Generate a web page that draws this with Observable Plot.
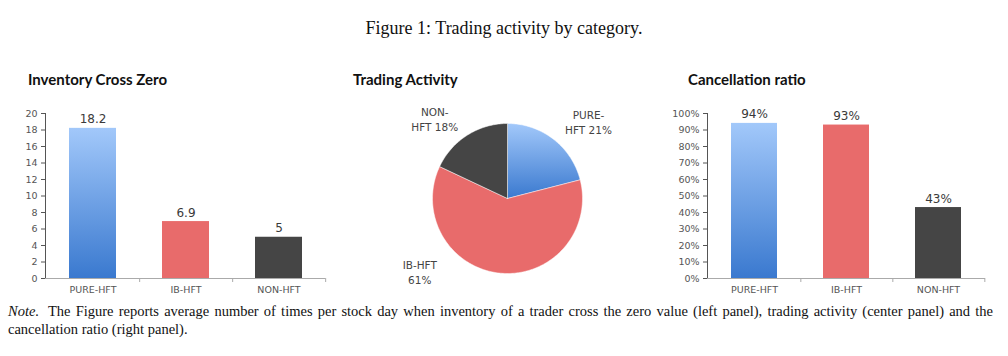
<!DOCTYPE html>
<html>
<head>
<meta charset="utf-8">
<script src="https://cdn.jsdelivr.net/npm/d3@7"></script>
<script src="https://cdn.jsdelivr.net/npm/@observablehq/plot@0.6"></script>
<style>
  html, body { margin: 0; padding: 0; background: #fff; }
  #root { position: relative; width: 1008px; height: 356px; overflow: hidden; }
  .abs { position: absolute; }
  .fig-title { left: 0; width: 1008px; top: 18px; text-align: center; font-family: "Liberation Serif", serif; font-size: 18px; color: #111; }
  .ptitle { font-family: Lato, sans-serif; font-weight: bold; font-size: 15px; color: #111; top: 70px; }
  .caption { left: 8px; top: 302px; width: 985px; font-family: "Liberation Serif", serif; font-size: 14.5px; line-height: 18px; color: #111; text-align: justify; }
  .caption .note { display: inline-block; font-style: italic; margin-right: 3px; padding-right: 1px; }
</style>
</head>
<body>
<div id="root">
  <div class="abs fig-title">Figure 1: Trading activity by category.</div>
  <div class="abs ptitle" style="left:28px">Inventory Cross Zero</div>
  <div class="abs ptitle" style="left:353px">Trading Activity</div>
  <div class="abs ptitle" style="left:688px">Cancellation ratio</div>
  <div class="abs" id="left" style="left:0px; top:100px"></div>
  <div class="abs" id="pie" style="left:380px; top:100px"></div>
  <div class="abs" id="right" style="left:660px; top:100px"></div>
  <div class="abs caption"><span class="note">Note.</span> The Figure reports average number of times per stock day when inventory of a trader cross the zero value (left panel), trading activity (center panel) and the cancellation ratio (right panel).</div>
</div>
<script>
// ---- data ----
const categories = ["PURE-HFT", "IB-HFT", "NON-HFT"];
const inventoryCrossZero = [18.2, 6.9, 5];
const tradingActivityShare = [21, 61, 18];
const cancellationRatio = [94, 93, 43];
const crossZeroTicks = [0, 2, 4, 6, 8, 10, 12, 14, 16, 18, 20];
const cancelTicks = [0, 10, 20, 30, 40, 50, 60, 70, 80, 90, 100];
const pieLabelText = ["PURE-\nHFT 21%", "IB-HFT\n61%", "NON-\nHFT 18%"];

// ---- styling / layout ----
const BLUE_LIGHT = "#a2c8fa", BLUE_DARK = "#3a79cf", RED = "#e86b6b", DARK = "#454545";
const pieLabelPos = [[1.08, 1.03], [-1.17, -0.97], [-0.97, 1.07]]; // label anchors in radius units

function addGradient(svg, id) {
  const ns = "http://www.w3.org/2000/svg";
  const defs = document.createElementNS(ns, "defs");
  const g = document.createElementNS(ns, "linearGradient");
  g.setAttribute("id", id);
  g.setAttribute("x1", "0"); g.setAttribute("y1", "0");
  g.setAttribute("x2", "0"); g.setAttribute("y2", "1");
  [[0, BLUE_LIGHT], [1, BLUE_DARK]].forEach(([o, c]) => {
    const s = document.createElementNS(ns, "stop");
    s.setAttribute("offset", o); s.setAttribute("stop-color", c);
    g.appendChild(s);
  });
  defs.appendChild(g);
  svg.insertBefore(defs, svg.firstChild);
}

function barChart({values, ticks, max, tickFormat, labelFormat, width, marginLeft, marginRight, gradId}) {
  const data = categories.map((c, i) => ({cat: c, v: values[i]}));
  const height = 200, marginTop = 13, marginBottom = 22;
  const step = (width - marginLeft - marginRight) / categories.length;
  const tickLen = max * 4 / (height - marginTop - marginBottom);
  const svg = Plot.plot({
    width, height, marginLeft, marginRight, marginTop, marginBottom,
    style: {fontFamily: "DejaVu Sans, sans-serif", fontSize: "9.5px", color: "#555", background: "transparent", overflow: "visible"},
    x: {domain: categories, paddingInner: 0.5, paddingOuter: 0.25, tickSize: 0, tickPadding: 8, label: null},
    y: {domain: [0, max], ticks, tickFormat, tickSize: 4, tickPadding: 4, line: true, label: null},
    color: {domain: categories, range: [`url(#${gradId})`, RED, DARK]},
    marks: [
      Plot.barY(data, {x: "cat", y: "v", fill: "cat"}),
      Plot.ruleY([0], {stroke: "#aaa"}),
      Plot.ruleX(categories, {x: d => d, y1: 0, y2: -tickLen, dx: step / 2, stroke: "#aaa"}),
      Plot.text(data, {x: "cat", y: "v", text: d => labelFormat(d.v), dy: -5, lineAnchor: "bottom", fontSize: 12, fill: "#3a3a3a"})
    ]
  });
  addGradient(svg, gradId);
  return svg;
}

document.getElementById("left").appendChild(barChart({
  values: inventoryCrossZero, ticks: crossZeroTicks, max: 20,
  tickFormat: d => String(d), labelFormat: v => String(v),
  width: 340, marginLeft: 45, marginRight: 15, gradId: "gBlueL"
}));

document.getElementById("right").appendChild(barChart({
  values: cancellationRatio, ticks: cancelTicks, max: 100,
  tickFormat: d => d + "%", labelFormat: v => v + "%",
  width: 348, marginLeft: 47, marginRight: 23, gradId: "gBlueR"
}));

// ---- pie ----
(function () {
  const W = 260, H = 195, cx = 127, cy = 98, R = 75;
  const total = d3.sum(tradingActivityShare);
  const pts = [];
  let acc = 0;
  categories.forEach((c, i) => {
    const a0 = acc / total * 2 * Math.PI;
    acc += tradingActivityShare[i];
    const a1 = acc / total * 2 * Math.PI;
    pts.push({cat: c, x: 0, y: 0});
    const n = Math.max(2, Math.ceil((a1 - a0) / (Math.PI / 180)));
    for (let k = 0; k <= n; k++) {
      const a = a0 + (a1 - a0) * k / n;
      pts.push({cat: c, x: Math.sin(a), y: Math.cos(a)});
    }
    pts.push({cat: c, x: 0, y: 0});
  });
  const labels = categories.map((c, i) => ({cat: c, text: pieLabelText[i], x: pieLabelPos[i][0], y: pieLabelPos[i][1]}));
  const svg = Plot.plot({
    width: W, height: H, margin: 0,
    style: {fontFamily: "DejaVu Sans, sans-serif", background: "transparent", overflow: "visible"},
    x: {domain: [-cx / R, (W - cx) / R], axis: null},
    y: {domain: [-(H - cy) / R, cy / R], axis: null},
    color: {domain: categories, range: ["url(#gBlueP)", RED, DARK]},
    marks: [
      Plot.line(pts, {x: "x", y: "y", z: "cat", fill: "cat", stroke: "#fff", strokeWidth: 0.8, strokeOpacity: 0.6}),
      Plot.text(labels, {x: "x", y: "y", text: "text", fontSize: 10.5, lineHeight: 1.45, fill: "#444"})
    ]
  });
  addGradient(svg, "gBlueP");
  document.getElementById("pie").appendChild(svg);
})();
</script>
</body>
</html>
